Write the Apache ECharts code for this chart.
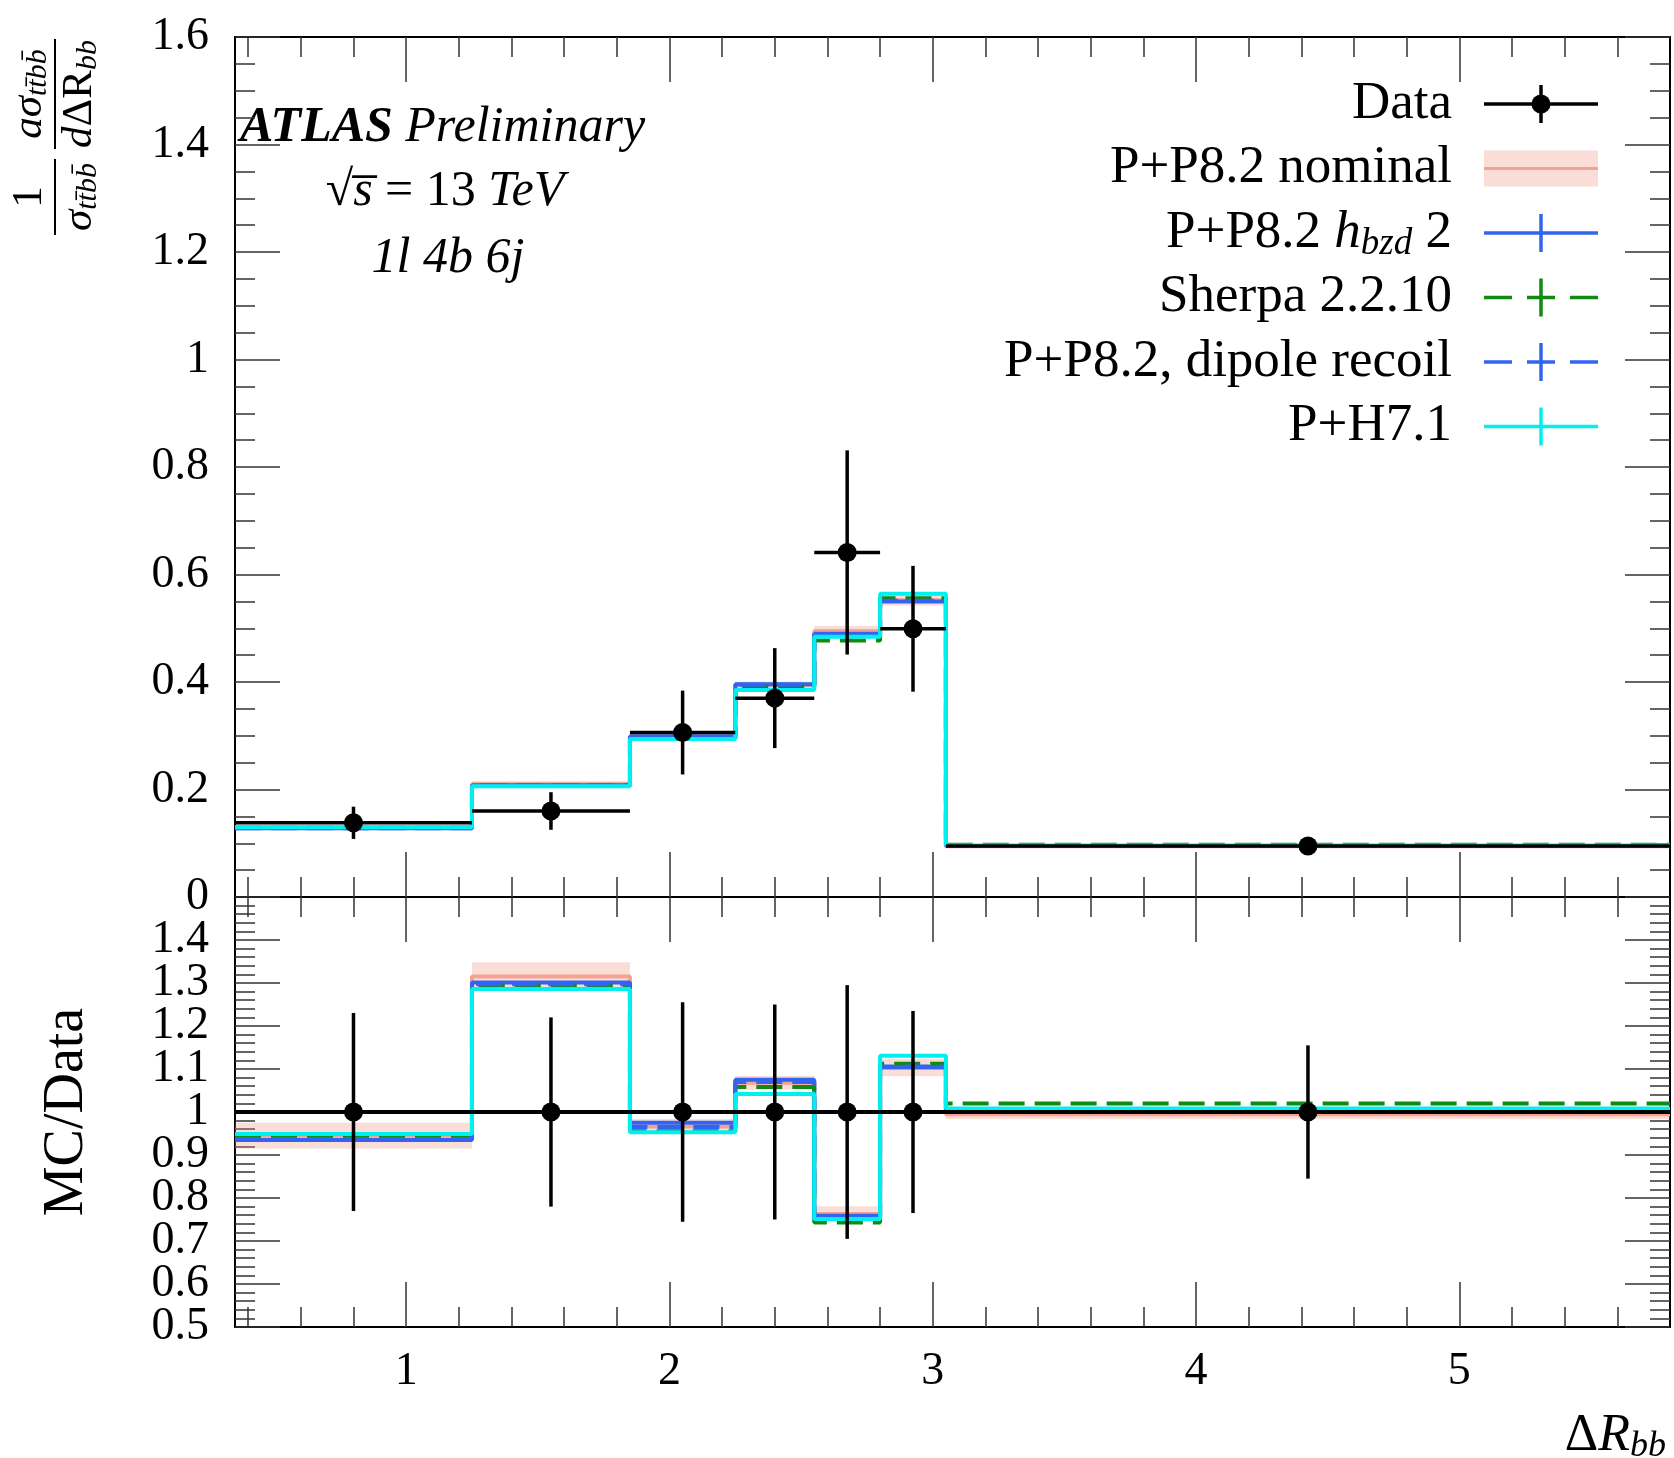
<!DOCTYPE html>
<html>
<head>
<meta charset="utf-8">
<script src="https://cdn.jsdelivr.net/npm/echarts@6/dist/echarts.min.js"></script>
<style>
  html, body { margin: 0; padding: 0; background: #fff; }
  #chart { width: 1674px; height: 1458px; }
</style>
</head>
<body>
<div id="chart"></div>
<script>
// bins of Delta R_bb
var binEdges = [0.35, 1.25, 1.85, 2.25, 2.55, 2.80, 3.05, 5.80];

// upper panel: normalised cross-section
var dataValues = [0.138, 0.160, 0.306, 0.370, 0.641, 0.499, 0.095];
var dataErrors = [0.030, 0.035, 0.078, 0.093, 0.190, 0.117, 0.015];
var nominalMain = [0.130, 0.210, 0.298, 0.394, 0.495, 0.552, 0.0945];
var nominalBandMain = [0.004, 0.006, 0.005, 0.007, 0.009, 0.010, 0.002];
var hbzdMain = [0.128, 0.208, 0.299, 0.396, 0.490, 0.550, 0.095];
var sherpaMain = [0.129, 0.207, 0.295, 0.391, 0.477, 0.556, 0.097];
var dipoleMain = [0.128, 0.208, 0.297, 0.395, 0.488, 0.551, 0.095];
var h7Main = [0.130, 0.206, 0.294, 0.385, 0.484, 0.564, 0.0958];

// lower panel: MC / Data
var ratioDataErr = [0.23, 0.22, 0.255, 0.25, 0.295, 0.235, 0.155];
var nominalRatio = [0.945, 1.315, 0.966, 1.068, 0.763, 1.103, 0.995];
var nominalBandRatio = [0.030, 0.033, 0.018, 0.016, 0.018, 0.020, 0.012];
var hbzdRatio = [0.935, 1.301, 0.975, 1.075, 0.759, 1.104, 1.000];
var sherpaRatio = [0.941, 1.295, 0.955, 1.058, 0.743, 1.112, 1.020];
var dipoleRatio = [0.937, 1.297, 0.965, 1.070, 0.757, 1.106, 1.002];
var h7Ratio = [0.949, 1.286, 0.953, 1.042, 0.751, 1.131, 1.008];

// tick values
var xMajorTicks = [1, 2, 3, 4, 5];
var xMinorTicks = [0.4, 0.6, 0.8, 1.2, 1.4, 1.6, 1.8, 2.2, 2.4, 2.6, 2.8, 3.2, 3.4, 3.6, 3.8,
                   4.2, 4.4, 4.6, 4.8, 5.2, 5.4, 5.6];
// ratio labels split in two sets so the tightly packed labels are not dropped
var ratioLabelsA = [0.5, 0.7, 0.9, 1.1, 1.3];
var ratioLabelsB = [0.6, 0.8, 1, 1.2, 1.4];

var FONT = '"Liberation Serif", "DejaVu Serif", serif';
var cNominal = '#f2a392', cBand = 'rgba(240,150,130,0.32)';
var cBlue = '#3264f2', cGreen = '#118a11', cCyan = '#00f0f0';

function stepData(vals) {
  return binEdges.map(function (e, i) { return [e, vals[Math.min(i, vals.length - 1)]]; });
}

function stepSeries(vals, xi, yi, color, dash, z) {
  return {
    type: 'line', step: 'end', xAxisIndex: xi, yAxisIndex: yi, z: z,
    data: stepData(vals), symbol: 'none', silent: true,
    lineStyle: { color: color, width: 4, type: dash ? [26, 10] : 'solid' }
  };
}

function bandSeries(center, half, xi, yi) {
  return {
    type: 'custom', xAxisIndex: xi, yAxisIndex: yi, z: 1, silent: true,
    data: center.map(function (v, i) { return [binEdges[i], binEdges[i + 1], v - half[i], v + half[i]]; }),
    renderItem: function (params, api) {
      var p1 = api.coord([api.value(0), api.value(3)]);
      var p2 = api.coord([api.value(1), api.value(2)]);
      return { type: 'rect', shape: { x: p1[0], y: p1[1], width: p2[0] - p1[0], height: p2[1] - p1[1] },
               style: { fill: cBand } };
    }
  };
}

function dataSeries(vals, errs, xi, yi, withBar) {
  return {
    type: 'custom', xAxisIndex: xi, yAxisIndex: yi, z: 10, silent: true,
    data: vals.map(function (v, i) {
      return [(binEdges[i] + binEdges[i + 1]) / 2, v, errs[i], binEdges[i], binEdges[i + 1]];
    }),
    renderItem: function (params, api) {
      var c = api.coord([api.value(0), api.value(1)]);
      var lo = api.coord([api.value(0), api.value(1) - api.value(2)]);
      var hi = api.coord([api.value(0), api.value(1) + api.value(2)]);
      var l = api.coord([api.value(3), api.value(1)]);
      var r = api.coord([api.value(4), api.value(1)]);
      var kids = [
        { type: 'line', shape: { x1: c[0], y1: lo[1], x2: c[0], y2: hi[1] }, style: { stroke: '#000', lineWidth: 3.5 } },
        { type: 'circle', shape: { cx: c[0], cy: c[1], r: 9.5 }, style: { fill: '#000' } }
      ];
      if (withBar) {
        kids.unshift({ type: 'line', shape: { x1: l[0], y1: c[1], x2: r[0], y2: c[1] }, style: { stroke: '#000', lineWidth: 3.5 } });
      }
      return { type: 'group', children: kids };
    }
  };
}

function xAxisDef(grid, pos, vals, len, showLabel) {
  return {
    type: 'value', gridIndex: grid, position: pos, min: 0.35, max: 5.8,
    axisLine: { show: true, onZero: false, lineStyle: { color: '#000', width: 2 } },
    axisTick: { show: true, inside: true, length: len, customValues: vals, lineStyle: { color: '#333', width: 1.5 } },
    axisLabel: { show: showLabel, customValues: vals, margin: 22, color: '#000', fontFamily: FONT, fontSize: 46 },
    splitLine: { show: false }
  };
}

function yAxisDef(grid, pos, min, max, interval, minorSplit, showLabel, labelVals) {
  var ax = {
    type: 'value', gridIndex: grid, position: pos, min: min, max: max, interval: interval,
    axisLine: { show: true, onZero: false, lineStyle: { color: '#000', width: 2 } },
    axisTick: { show: true, inside: true, length: 45, lineStyle: { color: '#333', width: 1.5 } },
    minorTick: { show: true, splitNumber: minorSplit, length: 20, lineStyle: { color: '#333', width: 1.5 } },
    axisLabel: { show: showLabel, margin: 26, color: '#000', fontFamily: FONT, fontSize: 46,
                 formatter: function (v) { return String(+v.toFixed(1)); } },
    splitLine: { show: false }, minorSplitLine: { show: false }
  };
  if (labelVals) ax.axisLabel.customValues = labelVals;
  return ax;
}

// label-only axis for the second set of ratio labels
function ratioLabelAxis(labelVals) {
  var ax = yAxisDef(1, 'left', 0.5, 1.5, 0.1, 5, true, labelVals);
  ax.axisLine = { show: false };
  ax.axisTick = { show: false };
  ax.minorTick = { show: false };
  return ax;
}

var subRich = {
  m: { fontFamily: FONT, fontSize: 43, fontStyle: 'italic', color: '#000' },
  u: { fontFamily: FONT, fontSize: 43, color: '#000' },
  s: { fontFamily: FONT, fontSize: 30, fontStyle: 'italic', color: '#000', padding: [16, 0, 0, 0] }
};

// legend built by hand: text right-aligned, symbol on the right
var legendNames = [
  '{n|Data}',
  '{n|P+P8.2 nominal}',
  '{n|P+P8.2 }{i|h}{s|bzd}{n| 2}',
  '{n|Sherpa 2.2.10}',
  '{n|P+P8.2, dipole recoil}',
  '{n|P+H7.1}'
];
var legendKinds = ['data', 'band', 'solid', 'dashed', 'dashed', 'solid'];
var legendColors = ['#000', cNominal, cBlue, cGreen, cBlue, cCyan];

var graphics = [];
legendNames.forEach(function (name, i) {
  var y = 104 + i * 64.5;
  graphics.push({
    type: 'text', x: 1452, y: y,
    style: {
      text: name, align: 'right', verticalAlign: 'middle',
      rich: {
        n: { fontFamily: FONT, fontSize: 53, color: '#000' },
        i: { fontFamily: FONT, fontSize: 53, fontStyle: 'italic', color: '#000' },
        s: { fontFamily: FONT, fontSize: 37, fontStyle: 'italic', color: '#000', padding: [22, 0, 0, 0] }
      }
    }
  });
  var k = legendKinds[i], col = legendColors[i];
  if (k === 'band') {
    graphics.push({ type: 'rect', shape: { x: 1484, y: y - 18, width: 114, height: 36 }, style: { fill: cBand } });
    graphics.push({ type: 'line', shape: { x1: 1484, y1: y, x2: 1598, y2: y }, style: { stroke: col, lineWidth: 3 } });
  } else {
    graphics.push({ type: 'line', shape: { x1: 1484, y1: y, x2: 1598, y2: y },
                    style: { stroke: col, lineWidth: 3.5, lineDash: k === 'dashed' ? [28, 15] : null } });
    graphics.push({ type: 'line', shape: { x1: 1541, y1: y - 19, x2: 1541, y2: y + 19 }, style: { stroke: col, lineWidth: 3.5 } });
    if (k === 'data') {
      graphics.push({ type: 'circle', shape: { cx: 1541, cy: y, r: 9.5 }, style: { fill: '#000' } });
    }
  }
});

// ATLAS label
graphics.push({
  type: 'text', x: 240, y: 128,
  style: {
    text: '{b|ATLAS}{i| Preliminary}', verticalAlign: 'middle',
    rich: {
      b: { fontFamily: FONT, fontSize: 50, fontWeight: 'bold', fontStyle: 'italic', color: '#000' },
      i: { fontFamily: FONT, fontSize: 50, fontStyle: 'italic', color: '#000' }
    }
  }
});
graphics.push({
  type: 'text', x: 445, y: 192,
  style: {
    text: '{n|\u221A}{i|s\u0305}{n| = 13 }{i|TeV}', align: 'center', verticalAlign: 'middle',
    rich: {
      n: { fontFamily: FONT, fontSize: 50, color: '#000' },
      i: { fontFamily: FONT, fontSize: 50, fontStyle: 'italic', color: '#000' }
    }
  }
});
graphics.push({
  type: 'text', x: 448, y: 259,
  style: { text: '1l 4b 6j', align: 'center', verticalAlign: 'middle',
           font: 'italic 50px ' + FONT, fill: '#000' }
});

// y title of upper panel (rotated fraction)
graphics.push({
  type: 'group', x: 55, y: 235, rotation: Math.PI / 2,
  children: [
    { type: 'line', shape: { x1: 0, y1: 0, x2: 76, y2: 0 }, style: { stroke: '#000', lineWidth: 2 } },
    { type: 'text', x: 38, y: -4, style: { text: '1', align: 'center', verticalAlign: 'bottom', font: '43px ' + FONT, fill: '#000' } },
    { type: 'text', x: 38, y: 2, style: { text: '{m|\u03C3}{s|tt\u0304bb\u0304}', align: 'center', verticalAlign: 'top', rich: subRich } },
    { type: 'line', shape: { x1: 86, y1: 0, x2: 196, y2: 0 }, style: { stroke: '#000', lineWidth: 2 } },
    { type: 'text', x: 141, y: -2, style: { text: '{m|a\u03C3}{s|tt\u0304bb\u0304}', align: 'center', verticalAlign: 'bottom', rich: subRich } },
    { type: 'text', x: 141, y: 2, style: { text: '{m|d}{u|\u0394R}{s|bb}', align: 'center', verticalAlign: 'top', rich: subRich } }
  ]
});

// y title of lower panel
graphics.push({
  type: 'text', x: 67, y: 1112, rotation: Math.PI / 2,
  style: { text: 'MC/Data', align: 'center', verticalAlign: 'middle', font: '56px ' + FONT, fill: '#000' }
});

// x title
graphics.push({
  type: 'text', x: 1666, y: 1436,
  style: {
    text: '{n|\u0394}{i|R}{s|bb}', align: 'right', verticalAlign: 'middle',
    rich: {
      n: { fontFamily: FONT, fontSize: 52, color: '#000' },
      i: { fontFamily: FONT, fontSize: 52, fontStyle: 'italic', color: '#000' },
      s: { fontFamily: FONT, fontSize: 36, fontStyle: 'italic', color: '#000', padding: [22, 0, 0, 0] }
    }
  }
});

var ratioOnes = dataValues.map(function () { return 1; });

var option = {
  animation: false,
  backgroundColor: '#fff',
  grid: [
    { left: 235, top: 37, width: 1435, height: 860 },
    { left: 235, top: 897, width: 1435, height: 430 }
  ],
  xAxis: [
    xAxisDef(0, 'bottom', xMajorTicks, 45, false),
    xAxisDef(0, 'bottom', xMinorTicks, 20, false),
    xAxisDef(0, 'top', xMajorTicks, 45, false),
    xAxisDef(0, 'top', xMinorTicks, 20, false),
    xAxisDef(1, 'bottom', xMajorTicks, 45, true),
    xAxisDef(1, 'bottom', xMinorTicks, 20, false),
    xAxisDef(1, 'top', xMajorTicks, 45, false),
    xAxisDef(1, 'top', xMinorTicks, 20, false)
  ],
  yAxis: [
    yAxisDef(0, 'left', 0, 1.6, 0.2, 4, true),
    yAxisDef(0, 'right', 0, 1.6, 0.2, 4, false),
    yAxisDef(1, 'left', 0.5, 1.5, 0.1, 5, true, ratioLabelsA),
    yAxisDef(1, 'right', 0.5, 1.5, 0.1, 5, false),
    ratioLabelAxis(ratioLabelsB)
  ],
  series: [
    bandSeries(nominalMain, nominalBandMain, 0, 0),
    stepSeries(nominalMain, 0, 0, cNominal, false, 2),
    stepSeries(hbzdMain, 0, 0, cBlue, false, 3),
    stepSeries(sherpaMain, 0, 0, cGreen, true, 4),
    stepSeries(dipoleMain, 0, 0, cBlue, true, 5),
    stepSeries(h7Main, 0, 0, cCyan, false, 6),
    dataSeries(dataValues, dataErrors, 0, 0, true),

    bandSeries(nominalRatio, nominalBandRatio, 4, 2),
    stepSeries(nominalRatio, 4, 2, cNominal, false, 2),
    stepSeries(hbzdRatio, 4, 2, cBlue, false, 3),
    stepSeries(sherpaRatio, 4, 2, cGreen, true, 4),
    stepSeries(dipoleRatio, 4, 2, cBlue, true, 5),
    stepSeries(h7Ratio, 4, 2, cCyan, false, 6),
    stepSeries(ratioOnes, 4, 2, '#000', false, 9),
    dataSeries(ratioOnes, ratioDataErr, 4, 2, false)
  ],
  graphic: { elements: graphics }
};

var myChart = echarts.init(document.getElementById('chart'));
myChart.setOption(option);
</script>
</body>
</html>
